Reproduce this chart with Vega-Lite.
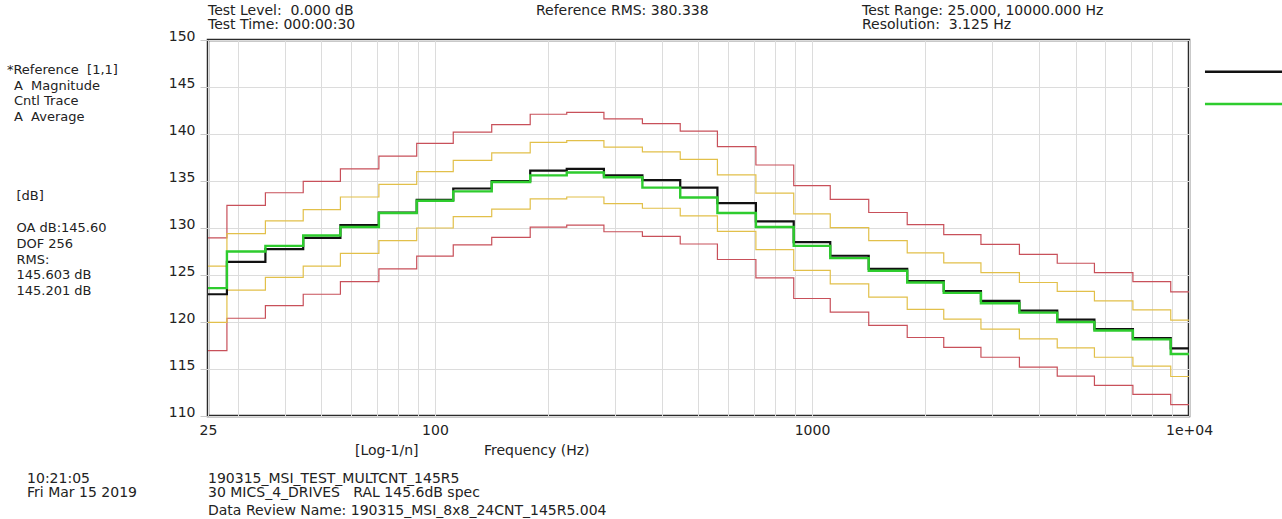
{
  "$schema": "https://vega.github.io/schema/vega-lite/v6.json",
  "width": 981,
  "height": 376,
  "autosize": {"type": "none"},
  "padding": {"left": 208, "top": 40, "right": 93, "bottom": 103},
  "background": "white",
  "config": {
    "font": "DejaVu Sans",
    "view": {"stroke": "#2b2b2b", "strokeWidth": 2.5},
    "axis": {"labelFont": "DejaVu Sans", "labelFontSize": 14, "labelColor": "#222222", "gridColor": "#dcdcdc", "gridWidth": 1, "domain": false, "title": null},
    "text": {"font": "DejaVu Sans", "fontSize": 14, "fill": "#222222", "align": "left", "baseline": "alphabetic"}
  },
  "resolve": {"axis": {"x": "independent", "y": "independent"}},
  "data": {"values": [
    {"f": 25, "ref": 122.95, "cntl": 123.6, "yu": 125.95, "yl": 119.95, "ru": 128.95, "rl": 116.95},
    {"f": 31.5, "ref": 126.4, "cntl": 127.5, "yu": 129.4, "yl": 123.4, "ru": 132.4, "rl": 120.4},
    {"f": 40, "ref": 127.75, "cntl": 128.1, "yu": 130.75, "yl": 124.75, "ru": 133.75, "rl": 121.75},
    {"f": 50, "ref": 128.95, "cntl": 129.2, "yu": 131.95, "yl": 125.95, "ru": 134.95, "rl": 122.95},
    {"f": 63, "ref": 130.3, "cntl": 130.1, "yu": 133.3, "yl": 127.3, "ru": 136.3, "rl": 124.3},
    {"f": 80, "ref": 131.65, "cntl": 131.6, "yu": 134.65, "yl": 128.65, "ru": 137.65, "rl": 125.65},
    {"f": 100, "ref": 133.0, "cntl": 132.9, "yu": 136.0, "yl": 130.0, "ru": 139.0, "rl": 127.0},
    {"f": 125, "ref": 134.2, "cntl": 133.9, "yu": 137.2, "yl": 131.2, "ru": 140.2, "rl": 128.2},
    {"f": 160, "ref": 135.0, "cntl": 134.9, "yu": 138.0, "yl": 132.0, "ru": 141.0, "rl": 129.0},
    {"f": 200, "ref": 136.1, "cntl": 135.6, "yu": 139.1, "yl": 133.1, "ru": 142.1, "rl": 130.1},
    {"f": 250, "ref": 136.3, "cntl": 135.9, "yu": 139.3, "yl": 133.3, "ru": 142.3, "rl": 130.3},
    {"f": 315, "ref": 135.6, "cntl": 135.4, "yu": 138.6, "yl": 132.6, "ru": 141.6, "rl": 129.6},
    {"f": 400, "ref": 135.1, "cntl": 134.3, "yu": 138.1, "yl": 132.1, "ru": 141.1, "rl": 129.1},
    {"f": 500, "ref": 134.3, "cntl": 133.25, "yu": 137.3, "yl": 131.3, "ru": 140.3, "rl": 128.3},
    {"f": 630, "ref": 132.65, "cntl": 131.6, "yu": 135.65, "yl": 129.65, "ru": 138.65, "rl": 126.65},
    {"f": 800, "ref": 130.7, "cntl": 130.1, "yu": 133.7, "yl": 127.7, "ru": 136.7, "rl": 124.7},
    {"f": 1000, "ref": 128.5, "cntl": 128.1, "yu": 131.5, "yl": 125.5, "ru": 134.5, "rl": 122.5},
    {"f": 1250, "ref": 127.05, "cntl": 126.8, "yu": 130.05, "yl": 124.05, "ru": 133.05, "rl": 121.05},
    {"f": 1600, "ref": 125.65, "cntl": 125.45, "yu": 128.65, "yl": 122.65, "ru": 131.65, "rl": 119.65},
    {"f": 2000, "ref": 124.35, "cntl": 124.2, "yu": 127.35, "yl": 121.35, "ru": 130.35, "rl": 118.35},
    {"f": 2500, "ref": 123.3, "cntl": 123.1, "yu": 126.3, "yl": 120.3, "ru": 129.3, "rl": 117.3},
    {"f": 3150, "ref": 122.25, "cntl": 122.0, "yu": 125.25, "yl": 119.25, "ru": 128.25, "rl": 116.25},
    {"f": 4000, "ref": 121.2, "cntl": 121.0, "yu": 124.2, "yl": 118.2, "ru": 127.2, "rl": 115.2},
    {"f": 5000, "ref": 120.25, "cntl": 120.0, "yu": 123.25, "yl": 117.25, "ru": 126.25, "rl": 114.25},
    {"f": 6300, "ref": 119.25, "cntl": 119.1, "yu": 122.25, "yl": 116.25, "ru": 125.25, "rl": 113.25},
    {"f": 8000, "ref": 118.3, "cntl": 118.15, "yu": 121.3, "yl": 115.3, "ru": 124.3, "rl": 112.3},
    {"f": 10000, "ref": 117.2, "cntl": 116.6, "yu": 120.2, "yl": 114.2, "ru": 123.2, "rl": 111.2}
  ]},
  "layer": [
    {
      "mark": {"type": "line", "interpolate": "step", "color": "#c8505a", "strokeWidth": 1.2},
      "encoding": {
        "x": {
          "field": "f", "type": "quantitative",
          "scale": {"type": "log", "domain": [25, 10000], "nice": false},
          "axis": {
            "values": [25, 30, 40, 50, 60, 70, 80, 90, 100, 200, 300, 400, 500, 600, 700, 800, 900, 1000, 2000, 3000, 4000, 5000, 6000, 7000, 8000, 9000, 10000],
            "labelExpr": "datum.value == 25 ? '25' : datum.value == 100 ? '100' : datum.value == 1000 ? '1000' : datum.value == 10000 ? '1e+04' : ''",
            "ticks": false, "labelPadding": 7, "labelOverlap": false, "labelFlush": false, "labelBound": false,
            "grid": true, "title": null
          }
        },
        "y": {"field": "rl", "type": "quantitative", "scale": {"domain": [110, 150], "nice": false, "zero": false},
          "axis": {"values": [110, 115, 120, 125, 130, 135, 140, 145, 150], "tickSize": 8, "tickColor": "#c8c8c8", "labelPadding": 5, "labelBaseline": "alphabetic", "labelFlush": false, "labelOverlap": false, "grid": true, "title": null}}}
    },
    {
      "mark": {"type": "line", "interpolate": "step", "color": "#c8505a", "strokeWidth": 1.2},
      "encoding": {
        "x": {"field": "f", "type": "quantitative", "scale": {"type": "log", "domain": [25, 10000], "nice": false}, "axis": null},
        "y": {"field": "ru", "type": "quantitative", "scale": {"domain": [110, 150], "nice": false, "zero": false}, "axis": null}}
    },
    {
      "mark": {"type": "line", "interpolate": "step", "color": "#e2c04a", "strokeWidth": 1.2},
      "encoding": {
        "x": {"field": "f", "type": "quantitative", "scale": {"type": "log", "domain": [25, 10000], "nice": false}, "axis": null},
        "y": {"field": "yl", "type": "quantitative", "scale": {"domain": [110, 150], "nice": false, "zero": false}, "axis": null}}
    },
    {
      "mark": {"type": "line", "interpolate": "step", "color": "#e2c04a", "strokeWidth": 1.2},
      "encoding": {
        "x": {"field": "f", "type": "quantitative", "scale": {"type": "log", "domain": [25, 10000], "nice": false}, "axis": null},
        "y": {"field": "yu", "type": "quantitative", "scale": {"domain": [110, 150], "nice": false, "zero": false}, "axis": null}}
    },
    {
      "mark": {"type": "line", "interpolate": "step", "color": "#111111", "strokeWidth": 2.2},
      "encoding": {
        "x": {"field": "f", "type": "quantitative", "scale": {"type": "log", "domain": [25, 10000], "nice": false}, "axis": null},
        "y": {"field": "ref", "type": "quantitative", "scale": {"domain": [110, 150], "nice": false, "zero": false}, "axis": null}}
    },
    {
      "mark": {"type": "line", "interpolate": "step", "color": "#2ecc2e", "strokeWidth": 2.4},
      "encoding": {
        "x": {"field": "f", "type": "quantitative", "scale": {"type": "log", "domain": [25, 10000], "nice": false}, "axis": null},
        "y": {"field": "cntl", "type": "quantitative", "scale": {"domain": [110, 150], "nice": false, "zero": false}, "axis": null}}
    },
    {
      "data": {"values": [{"k": 1}]},
      "mark": {"type": "rule", "color": "#111111", "strokeWidth": 2.5},
      "encoding": {
        "x": {"datum": 11025, "type": "quantitative", "scale": {"type": "log", "domain": [25, 10000], "nice": false}, "axis": null},
        "x2": {"datum": 17653},
        "y": {"datum": 146.63, "type": "quantitative", "scale": {"domain": [110, 150], "nice": false, "zero": false}, "axis": null}
      }
    },
    {
      "data": {"values": [{"k": 1}]},
      "mark": {"type": "rule", "color": "#2ecc2e", "strokeWidth": 2.5},
      "encoding": {
        "x": {"datum": 11025, "type": "quantitative", "scale": {"type": "log", "domain": [25, 10000], "nice": false}, "axis": null},
        "x2": {"datum": 17653},
        "y": {"datum": 143.19, "type": "quantitative", "scale": {"domain": [110, 150], "nice": false, "zero": false}, "axis": null}
      }
    },
    {
      "data": {"values": [{"k": 1}]},
      "mark": {"type": "text", "lineHeight": 13.5},
      "encoding": {
        "x": {"datum": 25, "type": "quantitative", "scale": {"type": "log", "domain": [25, 10000], "nice": false}, "axis": null},
        "y": {"datum": 152.65, "type": "quantitative", "scale": {"domain": [110, 150], "nice": false, "zero": false}, "axis": null},
        "text": {"value": ["Test Level:\u00a0\u00a00.000 dB", "Test Time: 000:00:30"]}
      }
    },
    {
      "data": {"values": [{"k": 1}]},
      "mark": {"type": "text"},
      "encoding": {
        "x": {"datum": 185.3, "type": "quantitative", "scale": {"type": "log", "domain": [25, 10000], "nice": false}, "axis": null},
        "y": {"datum": 152.65, "type": "quantitative", "scale": {"domain": [110, 150], "nice": false, "zero": false}, "axis": null},
        "text": {"value": "Reference RMS: 380.338"}
      }
    },
    {
      "data": {"values": [{"k": 1}]},
      "mark": {"type": "text", "lineHeight": 13.5},
      "encoding": {
        "x": {"datum": 1357, "type": "quantitative", "scale": {"type": "log", "domain": [25, 10000], "nice": false}, "axis": null},
        "y": {"datum": 152.65, "type": "quantitative", "scale": {"domain": [110, 150], "nice": false, "zero": false}, "axis": null},
        "text": {"value": ["Test Range: 25.000, 10000.000 Hz", "Resolution:\u00a0\u00a03.125 Hz"]}
      }
    },
    {
      "data": {"values": [{"k": 1}]},
      "mark": {"type": "text", "fontSize": 13},
      "encoding": {
        "x": {"datum": 7.32, "type": "quantitative", "scale": {"type": "log", "domain": [25, 10000], "nice": false}, "axis": null},
        "y": {"datum": 146.38, "type": "quantitative", "scale": {"domain": [110, 150], "nice": false, "zero": false}, "axis": null},
        "text": {"value": "*Reference\u00a0\u00a0[1,1]"}
      }
    },
    {
      "data": {"values": [{"k": 1}]},
      "mark": {"type": "text", "lineHeight": 15.7, "fontSize": 13},
      "encoding": {
        "x": {"datum": 7.64, "type": "quantitative", "scale": {"type": "log", "domain": [25, 10000], "nice": false}, "axis": null},
        "y": {"datum": 144.71, "type": "quantitative", "scale": {"domain": [110, 150], "nice": false, "zero": false}, "axis": null},
        "text": {"value": ["A\u00a0\u00a0Magnitude", "Cntl Trace", "A\u00a0\u00a0Average"]}
      }
    },
    {
      "data": {"values": [{"k": 1}]},
      "mark": {"type": "text", "fontSize": 13},
      "encoding": {
        "x": {"datum": 7.76, "type": "quantitative", "scale": {"type": "log", "domain": [25, 10000], "nice": false}, "axis": null},
        "y": {"datum": 133.0, "type": "quantitative", "scale": {"domain": [110, 150], "nice": false, "zero": false}, "axis": null},
        "text": {"value": "[dB]"}
      }
    },
    {
      "data": {"values": [{"k": 1}]},
      "mark": {"type": "text", "lineHeight": 15.9, "fontSize": 13},
      "encoding": {
        "x": {"datum": 7.76, "type": "quantitative", "scale": {"type": "log", "domain": [25, 10000], "nice": false}, "axis": null},
        "y": {"datum": 129.6, "type": "quantitative", "scale": {"domain": [110, 150], "nice": false, "zero": false}, "axis": null},
        "text": {"value": ["OA dB:145.60", "DOF 256", "RMS:", "145.603 dB", "145.201 dB"]}
      }
    },
    {
      "data": {"values": [{"k": 1}]},
      "mark": {"type": "text"},
      "encoding": {
        "x": {"datum": 61.35, "type": "quantitative", "scale": {"type": "log", "domain": [25, 10000], "nice": false}, "axis": null},
        "y": {"datum": 105.89, "type": "quantitative", "scale": {"domain": [110, 150], "nice": false, "zero": false}, "axis": null},
        "text": {"value": "[Log-1/n]"}
      }
    },
    {
      "data": {"values": [{"k": 1}]},
      "mark": {"type": "text"},
      "encoding": {
        "x": {"datum": 134.9, "type": "quantitative", "scale": {"type": "log", "domain": [25, 10000], "nice": false}, "axis": null},
        "y": {"datum": 105.89, "type": "quantitative", "scale": {"domain": [110, 150], "nice": false, "zero": false}, "axis": null},
        "text": {"value": "Frequency (Hz)"}
      }
    },
    {
      "data": {"values": [{"k": 1}]},
      "mark": {"type": "text", "lineHeight": 14},
      "encoding": {
        "x": {"datum": 8.28, "type": "quantitative", "scale": {"type": "log", "domain": [25, 10000], "nice": false}, "axis": null},
        "y": {"datum": 102.91, "type": "quantitative", "scale": {"domain": [110, 150], "nice": false, "zero": false}, "axis": null},
        "text": {"value": ["10:21:05", "Fri Mar 15 2019"]}
      }
    },
    {
      "data": {"values": [{"k": 1}]},
      "mark": {"type": "text", "lineHeight": 14},
      "encoding": {
        "x": {"datum": 25, "type": "quantitative", "scale": {"type": "log", "domain": [25, 10000], "nice": false}, "axis": null},
        "y": {"datum": 102.91, "type": "quantitative", "scale": {"domain": [110, 150], "nice": false, "zero": false}, "axis": null},
        "text": {"value": ["190315_MSI_TEST_MULTCNT_145R5", "30 MICS_4_DRIVES\u00a0\u00a0\u00a0RAL 145.6dB spec"]}
      }
    },
    {
      "data": {"values": [{"k": 1}]},
      "mark": {"type": "text"},
      "encoding": {
        "x": {"datum": 25, "type": "quantitative", "scale": {"type": "log", "domain": [25, 10000], "nice": false}, "axis": null},
        "y": {"datum": 99.46, "type": "quantitative", "scale": {"domain": [110, 150], "nice": false, "zero": false}, "axis": null},
        "text": {"value": "Data Review Name: 190315_MSI_8x8_24CNT_145R5.004"}
      }
    }
  ]
}
